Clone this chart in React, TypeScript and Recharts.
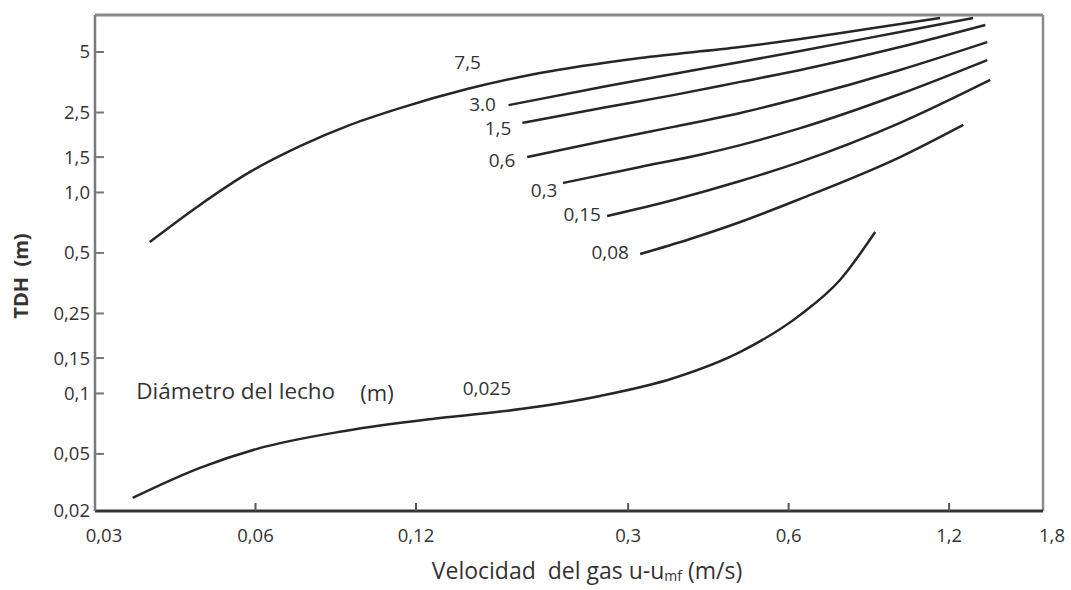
import { LineChart, Line, XAxis, YAxis, ReferenceLine, ReferenceDot } from "recharts";

// Velocidad del gas (m/s) vs TDH (m), one curve per bed diameter
const curve75 = [
  { x: 0.038, y: 0.567 }, { x: 0.0472, y: 0.867 }, { x: 0.0586, y: 1.265 },
  { x: 0.0727, y: 1.7 }, { x: 0.0903, y: 2.17 }, { x: 0.112, y: 2.63 },
  { x: 0.1496, y: 3.27 }, { x: 0.205, y: 3.93 }, { x: 0.316, y: 4.67 },
  { x: 0.4866, y: 5.29 }, { x: 0.631, y: 5.8 }, { x: 0.842, y: 6.51 },
  { x: 1.154, y: 7.38 },
];
const curve30 = [
  { x: 0.179, y: 2.72 }, { x: 0.274, y: 3.39 }, { x: 0.3645, y: 3.89 },
  { x: 0.487, y: 4.46 }, { x: 0.631, y: 5.06 }, { x: 0.971, y: 6.29 },
  { x: 1.331, y: 7.38 },
];
const curve15 = [
  { x: 0.19, y: 2.22 }, { x: 0.274, y: 2.66 }, { x: 0.3645, y: 3.05 },
  { x: 0.487, y: 3.55 }, { x: 0.631, y: 4.07 }, { x: 0.971, y: 5.29 },
  { x: 1.403, y: 6.81 },
];
const curve06 = [
  { x: 0.194, y: 1.5 }, { x: 0.274, y: 1.82 }, { x: 0.3645, y: 2.12 },
  { x: 0.487, y: 2.485 }, { x: 0.631, y: 2.95 }, { x: 0.971, y: 4.07 },
  { x: 1.415, y: 5.6 },
];
const curve03 = [
  { x: 0.2265, y: 1.115 }, { x: 0.316, y: 1.34 }, { x: 0.4095, y: 1.54 },
  { x: 0.487, y: 1.72 }, { x: 0.631, y: 2.09 }, { x: 0.971, y: 3.09 },
  { x: 1.415, y: 4.56 },
];
const curve015 = [
  { x: 0.274, y: 0.764 }, { x: 0.3645, y: 0.918 }, { x: 0.487, y: 1.14 },
  { x: 0.631, y: 1.42 }, { x: 0.971, y: 2.22 }, { x: 1.433, y: 3.63 },
];
const curve008 = [
  { x: 0.316, y: 0.494 }, { x: 0.392, y: 0.587 }, { x: 0.487, y: 0.713 },
  { x: 0.631, y: 0.929 }, { x: 0.971, y: 1.5 }, { x: 1.276, y: 2.17 },
];
const curve0025 = [
  { x: 0.0353, y: 0.0302 }, { x: 0.0472, y: 0.0426 }, { x: 0.0604, y: 0.053 },
  { x: 0.0883, y: 0.0651 }, { x: 0.133, y: 0.0755 }, { x: 0.19, y: 0.0838 },
  { x: 0.266, y: 0.0972 }, { x: 0.3645, y: 0.119 }, { x: 0.487, y: 0.161 },
  { x: 0.631, y: 0.246 }, { x: 0.749, y: 0.367 }, { x: 0.872, y: 0.636 },
];

const curves = [curve75, curve30, curve15, curve06, curve03, curve015, curve008, curve0025];

// diameter labels placed next to each curve
const curveLabels = [
  { text: "7,5", x: 0.15, y: 4.46 },
  { text: "3.0", x: 0.16, y: 2.76 },
  { text: "1,5", x: 0.171, y: 2.09 },
  { text: "0,6", x: 0.174, y: 1.45 },
  { text: "0,3", x: 0.2087, y: 1.03 },
  { text: "0,15", x: 0.246, y: 0.78 },
  { text: "0,08", x: 0.2776, y: 0.506 },
  { text: "0,025", x: 0.163, y: 0.106 },
];

const xTicks = [0.03, 0.06, 0.12, 0.3, 0.6, 1.2, 1.8];
const xTickLabels = ["0,03", "0,06", "0,12", "0,3", "0,6", "1,2", "1,8"];
const yTicks = [0.026, 0.05, 0.1, 0.15, 0.25, 0.5, 1, 1.5, 2.5, 5];
const yTickLabels = ["0,02", "0,05", "0,1", "0,15", "0,25", "0,5", "1,0", "1,5", "2,5", "5"];

const X_MIN = 0.03;
const X_MAX = 1.8;
const Y_MIN = 0.026;
const Y_MAX = 7.64;

const FONT = "'Open Sans', sans-serif";
const TEXT = "#333";
const LINE = "#262626";

const YTick = (props: any) => {
  const { x, y, payload } = props;
  const i = yTicks.indexOf(payload.value);
  return (
    <g>
      {i > 0 && <line x1={x} x2={x + 9} y1={y} y2={y} stroke="#777" strokeWidth={2} />}
      <text x={x - 5} y={y} dy="0.35em" textAnchor="end" fontSize={18.5} fill={TEXT} fontFamily={FONT}>
        {yTickLabels[i]}
      </text>
    </g>
  );
};

const XTick = (props: any) => {
  const { x, y, payload } = props;
  const i = xTicks.indexOf(payload.value);
  const edge = i === 0 || i === xTicks.length - 1;
  return (
    <g>
      {!edge && <line x1={x} x2={x} y1={y - 8} y2={y} stroke="#555" strokeWidth={2} />}
      <text x={edge ? x + 9 : x} y={y + 31} textAnchor="middle" fontSize={18.5} fill={TEXT} fontFamily={FONT}>
        {xTickLabels[i]}
      </text>
    </g>
  );
};

export default function App() {
  return (
    <div style={{ position: "absolute", left: 0, top: 0, background: "#fff" }}>
      <LineChart width={1071} height={590} margin={{ top: 15, right: 28, bottom: 0, left: 0 }}>
        <XAxis
          dataKey="x"
          type="number"
          scale="log"
          domain={[X_MIN, X_MAX]}
          allowDataOverflow
          ticks={xTicks}
          tick={<XTick />}
          tickLine={false}
          tickSize={0}
          tickMargin={0}
          height={79}
          axisLine={{ stroke: "#333", strokeWidth: 3 }}
        />
        <YAxis
          dataKey="y"
          type="number"
          scale="log"
          domain={[Y_MIN, Y_MAX]}
          allowDataOverflow
          ticks={yTicks}
          tick={<YTick />}
          tickLine={false}
          tickSize={0}
          tickMargin={0}
          width={95}
          axisLine={{ stroke: "#7a7a7a", strokeWidth: 2.5 }}
        />
        <ReferenceLine y={Y_MAX} stroke="#8a8a8a" strokeWidth={3} />
        <ReferenceLine x={X_MAX} stroke="#8a8a8a" strokeWidth={2.5} />
        {curves.map((data, i) => (
          <Line
            key={i}
            data={data}
            dataKey="y"
            type="monotone"
            stroke={LINE}
            strokeWidth={2.5}
            dot={false}
            activeDot={false}
            isAnimationActive={false}
          />
        ))}
        {curveLabels.map((l) => (
          <ReferenceDot
            key={l.text}
            x={l.x}
            y={l.y}
            r={1}
            fill="none"
            stroke="none"
            label={{ value: l.text, position: "center", fontSize: 19, fill: TEXT, fontFamily: FONT }}
          />
        ))}
        <ReferenceDot
          x={0.036}
          y={0.1017}
          r={1}
          fill="none"
          stroke="none"
          label={(p: any) => (
            <text x={p.viewBox.x} y={p.viewBox.y} dy="0.35em" fontSize={22.5} fill={TEXT} fontFamily={FONT}>
              Diámetro del lecho
            </text>
          )}
        />
        <ReferenceDot
          x={0.1014}
          y={0.1}
          r={1}
          fill="none"
          stroke="none"
          label={{ value: "(m)", position: "center", fontSize: 22, fill: TEXT, fontFamily: FONT }}
        />
        <text x={587} y={579} textAnchor="middle" fontSize={23} fill={TEXT} fontFamily={FONT}>
          {"Velocidad\u00a0\u00a0del gas u-u"}
          <tspan fontSize={14} dy={2}>mf</tspan>
          <tspan dy={-2}> (m/s)</tspan>
        </text>
        <text
          x={28}
          y={276}
          transform="rotate(-90 28 276)"
          textAnchor="middle"
          fontSize={20}
          fontWeight="bold"
          fill={TEXT}
          fontFamily={FONT}
        >
          {"TDH\u00a0\u00a0(m)"}
        </text>
      </LineChart>
    </div>
  );
}
